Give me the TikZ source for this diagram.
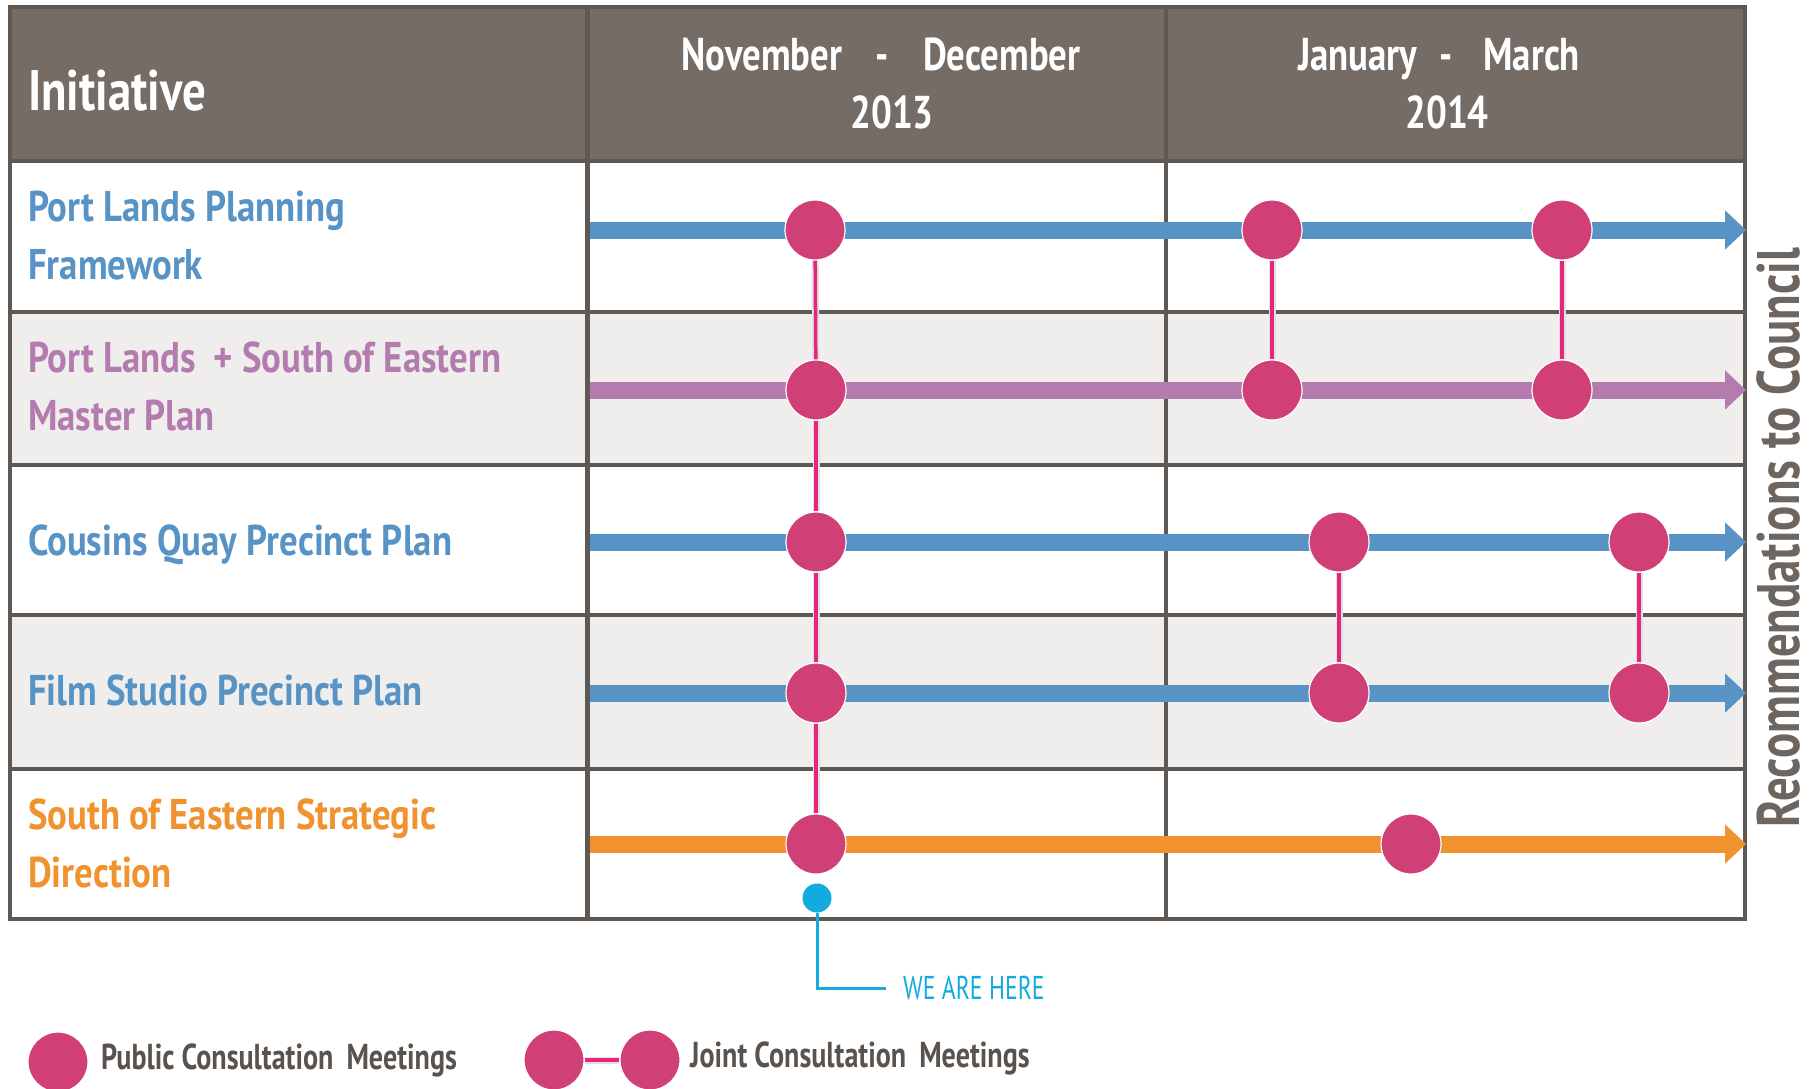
\documentclass[tikz,border=0pt]{standalone}
\usepackage{fontspec}
\setmainfont{PT Sans}[FakeStretch=0.78]
\newfontfamily\labfont{PT Sans}[FakeStretch=0.855]
\newfontfamily\hdrfont{PT Sans}[FakeStretch=0.80]
\newfontfamily\inifont{PT Sans}[FakeStretch=0.82]
\newfontfamily\recfont{PT Sans}[FakeStretch=0.782]
\newfontfamily\wafont{PT Sans}[FakeStretch=0.72]
\usetikzlibrary{arrows.meta}
\definecolor{hdrc}{HTML}{756C66}
\definecolor{gridc}{HTML}{5F5853}
\definecolor{altc}{HTML}{EFEEEC}
\definecolor{bluec}{HTML}{5893C5}
\definecolor{purc}{HTML}{B47BAE}
\definecolor{orc}{HTML}{F0922D}
\definecolor{meetc}{HTML}{D04076}
\definecolor{linkc}{HTML}{E5267C}
\definecolor{cyanc}{HTML}{12ABDD}
\definecolor{txtg}{HTML}{5A524C}
\definecolor{recg}{HTML}{6D655F}
\begin{document}
\begin{tikzpicture}[x=1pt,y=-1pt,
  meet/.style={circle,fill=meetc,draw=white,line width=1.2pt,minimum size=60pt,inner sep=0pt},
  link/.style={draw=linkc,line width=3.5pt,preaction={draw=black!12,line width=7pt}},
  track/.style={line width=17pt,-{Triangle[length=21pt,width=38pt]}},
  gridline/.style={draw=gridc,line width=4.5pt},
  lbl/.style={anchor=base west,align=left,inner sep=0pt,font=\labfont\bfseries\fontsize{43}{57.5}\selectfont},
  hdr/.style={text=white,inner sep=0pt,font=\hdrfont\bfseries\fontsize{46}{58}\selectfont},
  legtxt/.style={anchor=west,inner sep=0pt,text=txtg,font=\bfseries\fontsize{36}{40}\selectfont}]
\useasboundingbox (0,0) rectangle (1813,1088);
\fill[white] (0,0) rectangle (1813,1088);
% backgrounds
\fill[hdrc] (10,7) rectangle (1745,161);
\fill[altc] (10,312) rectangle (1745,465);
\fill[altc] (10,615) rectangle (1745,769);
% grid
\draw[gridline] (10,7) rectangle (1745,919);
\foreach \yy in {161,312,465,615,769} \draw[gridline] (10,\yy) -- (1745,\yy);
\draw[gridline] (587.5,7) -- (587.5,919);
\draw[gridline] (1166,7) -- (1166,919);
% header texts
\node[hdr,anchor=base west,font=\inifont\bfseries\fontsize{57}{60}\selectfont] (ini) at (28,110) {Initiative};
\node[hdr,anchor=base] (nd) at (881,70) {November\hspace{34pt}-\hspace{34pt}December};
\node[hdr,anchor=base] (y13) at (892,128) {2013};
\node[hdr,anchor=base] (jm) at (1439,70) {January\hspace{22pt}-\hspace{31pt}March};
\node[hdr,anchor=base] (y14) at (1447,128) {2014};
% row labels (base anchor = baseline of last line)
\node[lbl,text=bluec] (l1) at (28,279) {Port Lands Planning\\Framework};
\node[lbl,text=purc] (l2) at (28,430) {Port Lands\hspace{8pt} + South of Eastern\\Master Plan};
\node[lbl,text=bluec] (l3) at (28,555) {Cousins Quay Precinct Plan};
\node[lbl,text=bluec] (l4) at (28,705) {Film Studio Precinct Plan};
\node[lbl,text=orc] (l5) at (28,887) {South of Eastern Strategic\\Direction};
% tracks
\foreach \r/\yy in {1/230,2/390,3/542,4/693,5/844} {
  \coordinate (s\r) at (590,\yy);
  \coordinate (e\r) at (1746,\yy);
}
\draw[track,bluec] (s1) -- (e1);
\draw[track,purc] (s2) -- (e2);
\draw[track,bluec] (s3) -- (e3);
\draw[track,bluec] (s4) -- (e4);
\draw[track,orc] (s5) -- (e5);
% meetings
\node[meet] (c11) at (815,230) {};
\node[meet] (c12) at (1272,230) {};
\node[meet] (c13) at (1562,230) {};
\node[meet] (c21) at (816,390) {};
\node[meet] (c22) at (1272,390) {};
\node[meet] (c23) at (1562,390) {};
\node[meet] (c31) at (816,542) {};
\node[meet] (c32) at (1339,542) {};
\node[meet] (c33) at (1639,542) {};
\node[meet] (c41) at (816,693) {};
\node[meet] (c42) at (1339,693) {};
\node[meet] (c43) at (1639,693) {};
\node[meet] (c51) at (816,844) {};
\node[meet] (c52) at (1411,844) {};
% joint links
\draw[link] (c11) -- (c21);
\draw[link] (c21) -- (c31);
\draw[link] (c31) -- (c41);
\draw[link] (c41) -- (c51);
\draw[link] (c12) -- (c22);
\draw[link] (c13) -- (c23);
\draw[link] (c32) -- (c42);
\draw[link] (c33) -- (c43);
% recommendations
\node[rotate=90,anchor=base,inner sep=0pt,text=recg,font=\recfont\bfseries\fontsize{60}{64}\selectfont] (rec) at (1799,538) {Recommendations to Council};
% we are here
\node[circle,fill=cyanc,minimum size=29pt,inner sep=0pt] (here) at (817,898) {};
\coordinate (hk) at (886,988);
\node[anchor=west,inner sep=0pt,text=cyanc,font=\wafont\fontsize{33}{36}\selectfont] (wah) at (903,988) {WE ARE HERE};
\draw[cyanc,line width=3pt] (here.south) |- (hk);
% legend
\node[meet] (lg1) at (58,1062) {};
\node[legtxt] (lt1) at (101,1060) {Public Consultation\hspace{6pt} Meetings};
\node[meet] (lg2) at (554,1060) {};
\node[meet] (lg3) at (650,1060) {};
\draw[link] (lg2) -- (lg3);
\node[legtxt] (lt2) at (690,1058) {Joint Consultation\hspace{6pt} Meetings};
\end{tikzpicture}
\end{document}
